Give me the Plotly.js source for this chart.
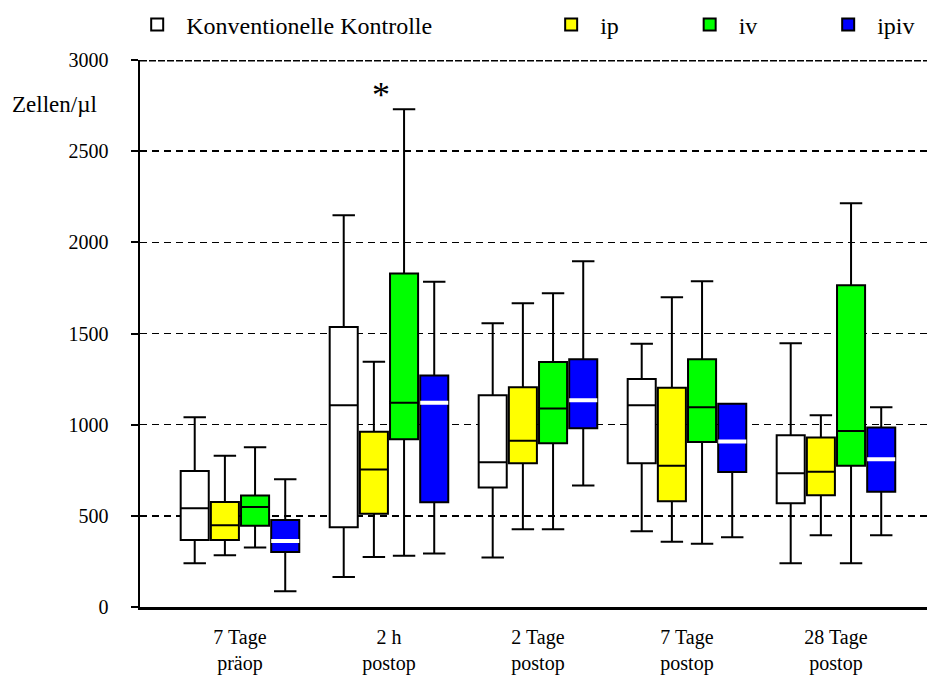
<!DOCTYPE html>
<html>
<head>
<meta charset="utf-8">
<script src="https://cdn.plot.ly/plotly-3.0.1.min.js"></script>
<style>html,body{margin:0;padding:0;background:#fff}#chart{width:927px;height:675px}</style>
</head>
<body>
<div id="chart"></div>
<script>
// Categories (x tick labels)
const categories = ["7 Tage<br>präop", "2 h<br>postop", "2 Tage<br>postop", "7 Tage<br>postop", "28 Tage<br>postop"];

// Series names
const seriesNames = ["Konventionelle Kontrolle", "ip", "iv", "ipiv"];

// Konventionelle Kontrolle
const kontrolleLow    = [240, 164, 272, 415, 240];
const kontrolleQ1     = [367, 438, 655, 788, 569];
const kontrolleMedian = [541, 1106, 794, 1106, 733];
const kontrolleQ3     = [746, 1535, 1161, 1251, 942];
const kontrolleHigh   = [1040, 2148, 1556, 1444, 1446];

// ip
const ipLow    = [284, 274, 426, 358, 393];
const ipQ1     = [367, 512, 788, 580, 613];
const ipMedian = [448, 754, 912, 775, 742];
const ipQ3     = [576, 961, 1205, 1203, 929];
const ipHigh   = [830, 1345, 1666, 1699, 1051];

// iv
const ivLow    = [327, 281, 426, 347, 240];
const ivQ1     = [446, 920, 898, 905, 775];
const ivMedian = [549, 1120, 1088, 1095, 965];
const ivQ3     = [611, 1829, 1344, 1359, 1765];
const ivHigh   = [876, 2730, 1721, 1787, 2214];

// ipiv
const ipivLow    = [86, 293, 667, 382, 393];
const ipivQ1     = [302, 575, 980, 741, 632];
const ipivMedian = [362, 1120, 1134, 907, 810];
const ipivQ3     = [477, 1269, 1359, 1115, 984];
const ipivHigh   = [700, 1784, 1896, 1115, 1095];

const yTicks = [0, 500, 1000, 1500, 2000, 2500, 3000];

const fills = ["#ffffff", "#ffff00", "#00ff00", "#0000ff"];
const groups = ["k", "ip", "iv", "ipiv"];
const legendIds = ["legend", "legend2", "legend3", "legend4"];
const stats = [
  [kontrolleLow, kontrolleQ1, kontrolleMedian, kontrolleQ3, kontrolleHigh],
  [ipLow, ipQ1, ipMedian, ipQ3, ipHigh],
  [ivLow, ivQ1, ivMedian, ivQ3, ivHigh],
  [ipivLow, ipivQ1, ipivMedian, ipivQ3, ipivHigh]
];

const serif = "Liberation Serif";

const traces = stats.map((s, i) => ({
  type: "box",
  name: seriesNames[i],
  x: categories,
  lowerfence: s[0], q1: s[1], median: s[2], q3: s[3], upperfence: s[4],
  fillcolor: fills[i],
  line: {color: "#000000", width: 2},
  whiskerwidth: 0.8,
  boxpoints: false,
  offsetgroup: groups[i],
  legend: legendIds[i],
  hoverinfo: "skip"
}));

// white median line for ipiv
traces.push({
  type: "box",
  name: "ipiv median",
  x: categories,
  lowerfence: ipivMedian, q1: ipivMedian, median: ipivMedian, q3: ipivMedian, upperfence: ipivMedian,
  fillcolor: "#ffffff",
  line: {color: "#ffffff", width: 4},
  whiskerwidth: 0,
  boxpoints: false,
  offsetgroup: "ipiv",
  showlegend: false,
  hoverinfo: "skip"
});

function leg(x) {
  return {x: x, y: 1.064, xanchor: "left", yanchor: "middle", orientation: "h",
          itemwidth: 48,
          bgcolor: "rgba(0,0,0,0)", font: {family: serif, size: 24, color: "#000"}};
}

const layout = {
  width: 927, height: 675,
  margin: {l: 140, r: 0, t: 60, b: 68},
  paper_bgcolor: "#ffffff", plot_bgcolor: "#ffffff",
  boxmode: "group",
  boxgap: 0.19,
  boxgroupgap: 0.07,
  font: {family: serif, color: "#000"},
  xaxis: {
    type: "category",
    range: [-0.671, 4.611],
    showline: true, linecolor: "#000", linewidth: 2.5,
    showgrid: false, zeroline: false,
    ticks: "", tickfont: {family: serif, size: 20, color: "#000"},
    ticklabelstandoff: 10
  },
  yaxis: {
    range: [0, 3000],
    tickvals: yTicks,
    ticktext: yTicks.map(String),
    showline: true, linecolor: "#000", linewidth: 2.5,
    showgrid: true, gridcolor: "#000", gridwidth: 1.5, griddash: "7px,5px",
    zeroline: false,
    ticks: "outside", ticklen: 7, tickwidth: 2, tickcolor: "#000",
    tickfont: {family: serif, size: 20, color: "#000"},
    ticklabelstandoff: 18
  },
  legend: leg(-0.015),
  legend2: leg(0.511),
  legend3: leg(0.687),
  legend4: leg(0.863),
  shapes: [
    {type: "line", xref: "paper", x0: 0, x1: 1, yref: "y", y0: yTicks[yTicks.length - 1], y1: yTicks[yTicks.length - 1],
     line: {color: "#000", width: 3, dash: "7px,2px"}}
  ],
  annotations: [
    {xref: "paper", yref: "paper", x: -0.165, y: 0.918, xanchor: "left", yanchor: "middle",
     text: "Zellen/µl", showarrow: false, font: {family: serif, size: 23, color: "#000"}},
    {xref: "x", yref: "y", x: categories[1], y: ivHigh[1], xshift: -8, yanchor: "bottom", yshift: -8,
     text: "*", showarrow: false, font: {family: serif, size: 36, color: "#000"}}
  ]
};

Plotly.newPlot("chart", traces, layout, {displayModeBar: false, staticPlot: true});
</script>
</body>
</html>
